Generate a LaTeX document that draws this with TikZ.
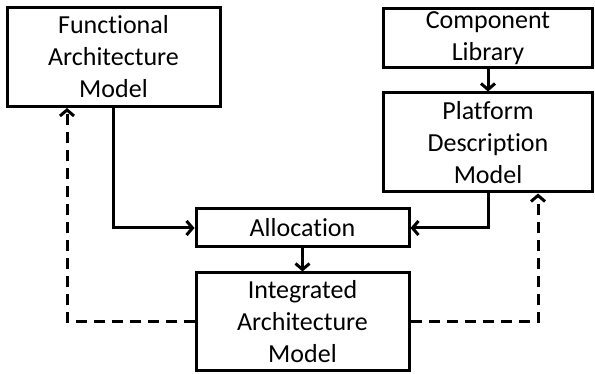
\documentclass[tikz,border=0pt]{standalone}
\usepackage{fontspec}
\setmainfont[Ligatures=NoCommon]{Carlito}
\usetikzlibrary{arrows.meta}
\begin{document}
\begin{tikzpicture}[x=1pt,y=-1pt,
  box/.style={draw,line width=3pt,rectangle,inner sep=0pt,align=center,
    font=\fontsize{26}{32}\selectfont},
  flow/.style={line width=3pt,-{Straight Barb[length=6pt,width=14pt,line width=3pt]}},
  feedback/.style={flow,dash pattern=on 11pt off 7pt}]
\useasboundingbox (0,0) rectangle (595,374);
% model boxes
\node[box,minimum width=213pt,minimum height=99pt] (fam) at (113.5,57) {Functional\\Architecture\\Model};
\node[box,minimum width=209pt,minimum height=59pt] (lib) at (488,38.5) {Component\\Library};
\node[box,minimum width=209pt,minimum height=99pt] (pdm) at (488,142.5) {Platform\\Description\\Model};
\node[box,minimum width=213pt,minimum height=38pt] (alloc) at (302.5,228) {Allocation};
\node[box,minimum width=213pt,minimum height=98pt] (iam) at (302.5,322) {Integrated\\Architecture\\Model};
% corner points of the connectors
\coordinate (fl) at (67,322);
\coordinate (fr) at (538,322);
% solid flow
\draw[flow] (lib.south) -- (pdm.north);
\draw[flow] (fam.south) |- (alloc.west);
\draw[flow] (pdm.south) |- (alloc.east);
\draw[flow] (alloc.south) -- (iam.north);
% dashed feedback
\draw[feedback] (iam.west) -- (fl) -- (fl |- fam.south);
\draw[feedback] (iam.east) -- (fr) -- (fr |- pdm.south);
\end{tikzpicture}
\end{document}
